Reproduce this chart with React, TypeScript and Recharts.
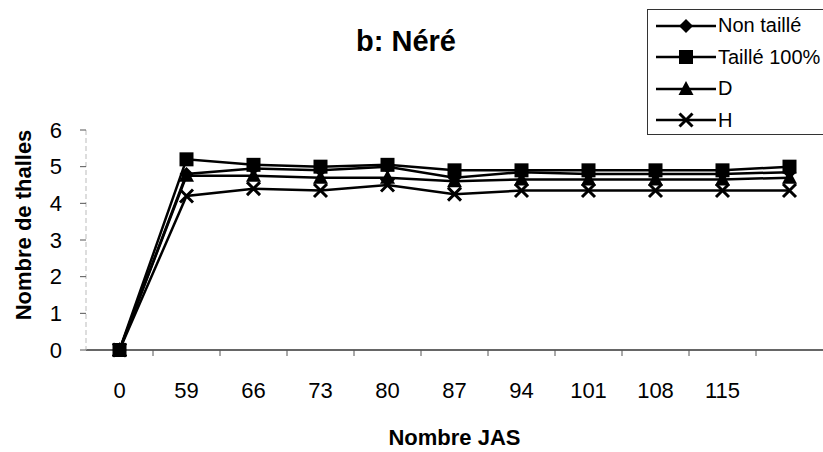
import React from "react";
import { LineChart, Line, XAxis, YAxis, Legend } from "recharts";

// Nombre JAS (jours après semis)
const days = ["0", "59", "66", "73", "80", "87", "94", "101", "108", "115", "122"];
const tickLabels = ["0", "59", "66", "73", "80", "87", "94", "101", "108", "115", ""];

const nonTaille = [0, 4.8, 4.95, 4.9, 5.0, 4.7, 4.85, 4.8, 4.8, 4.8, 4.85];
const taille100 = [0, 5.2, 5.05, 5.0, 5.05, 4.9, 4.9, 4.9, 4.9, 4.9, 5.0];
const serieD = [0, 4.75, 4.75, 4.7, 4.7, 4.6, 4.65, 4.65, 4.65, 4.65, 4.7];
const serieH = [0, 4.2, 4.4, 4.35, 4.5, 4.25, 4.35, 4.35, 4.35, 4.35, 4.35];

const yTicks = [0, 1, 2, 3, 4, 5, 6];

const data = days.map((d, i) => ({
  jas: d,
  nonTaille: nonTaille[i],
  taille100: taille100[i],
  d: serieD[i],
  h: serieH[i],
}));

type Shape = "diamond" | "square" | "triangle" | "cross";

const series: { key: string; name: string; shape: Shape }[] = [
  { key: "nonTaille", name: "Non taillé", shape: "diamond" },
  { key: "taille100", name: "Taillé 100%", shape: "square" },
  { key: "d", name: "D", shape: "triangle" },
  { key: "h", name: "H", shape: "cross" },
];

const FONT = 'Arial, "Liberation Sans", sans-serif';
const BAND_HALF = 33.5;

function marker(shape: Shape, cx: number, cy: number, key?: string | number) {
  if (cx == null || cy == null) return <g key={key} />;
  switch (shape) {
    case "diamond":
      return <path key={key} d={`M${cx},${cy - 7}L${cx + 7},${cy}L${cx},${cy + 7}L${cx - 7},${cy}Z`} fill="#000" />;
    case "square":
      return <rect key={key} x={cx - 7} y={cy - 7} width={14} height={14} fill="#000" />;
    case "triangle":
      return <path key={key} d={`M${cx},${cy - 8}L${cx + 7.5},${cy + 6}L${cx - 7.5},${cy + 6}Z`} fill="#000" />;
    default:
      return (
        <path
          key={key}
          d={`M${cx - 6.5},${cy - 6.5}L${cx + 6.5},${cy + 6.5}M${cx + 6.5},${cy - 6.5}L${cx - 6.5},${cy + 6.5}`}
          stroke="#000"
          strokeWidth={3}
          fill="none"
        />
      );
  }
}

function XTick(props: any) {
  const { x, y, payload, index } = props;
  return (
    <g>
      {index < days.length - 1 && (
        <line x1={x + BAND_HALF} y1={y - 8} x2={x + BAND_HALF} y2={y - 2} stroke="#555" strokeWidth={1} />
      )}
      <text x={x} y={y + 40} textAnchor="middle" fontSize={22} fontFamily={FONT} fill="#000">
        {tickLabels[payload.index ?? index] ?? ""}
      </text>
    </g>
  );
}

function LegendBox() {
  return (
    <div
      style={{
        border: "1px solid #333",
        background: "#fff",
        width: 215,
        height: 126,
        boxSizing: "border-box",
        paddingTop: 0,
        fontFamily: FONT,
        fontSize: 20,
        color: "#000",
      }}
    >
      {series.map((s) => (
        <div key={s.key} style={{ height: 31.5, display: "flex", alignItems: "center", whiteSpace: "nowrap" }}>
          <svg width={64} height={24} style={{ marginLeft: 6, flex: "none" }}>
            <line x1={2} y1={12} x2={62} y2={12} stroke="#000" strokeWidth={2.5} />
            {marker(s.shape, 32, 12)}
          </svg>
          <span>{s.name}</span>
        </div>
      ))}
    </div>
  );
}

function YLabel() {
  return (
    <text
      x={23}
      y={225}
      transform="rotate(-90 23 225)"
      textAnchor="middle"
      dominantBaseline="central"
      fontSize={22}
      fontWeight="bold"
      fontFamily={FONT}
      fill="#000"
    >
      Nombre de thalles
    </text>
  );
}

export default function App() {
  return (
    <div
      style={{
        position: "absolute",
        left: 0,
        top: 0,
        width: 823,
        height: 452,
        overflow: "hidden",
        background: "#fff",
        fontFamily: FONT,
      }}
    >
      <div
        style={{
          position: "absolute",
          left: 0,
          width: 812,
          top: 24,
          textAlign: "center",
          fontSize: 29,
          fontWeight: "bold",
          lineHeight: "34px",
        }}
      >
        b: Néré
      </div>
      <LineChart width={823} height={452} data={data} margin={{ top: 130, right: 0, bottom: 0, left: 0 }}>
        <XAxis
          dataKey="jas"
          height={102}
          interval={0}
          padding={{ left: BAND_HALF, right: BAND_HALF }}
          tickLine={false}
          axisLine={{ stroke: "#333", strokeWidth: 1.5 }}
          tick={<XTick />}
          label={{
            value: "Nombre JAS",
            position: "insideBottom",
            offset: 7,
            style: { fontSize: 22, fontWeight: "bold", fill: "#000", fontFamily: FONT },
          }}
        />
        <YAxis
          width={86}
          domain={[0, 6]}
          ticks={yTicks}
          interval={0}
          tickSize={6}
          tickMargin={18}
          tickLine={{ stroke: "#555" }}
          axisLine={{ stroke: "#bbb", strokeWidth: 1, strokeDasharray: "5 3" }}
          tick={{ fontSize: 22, fill: "#000", fontFamily: FONT }}
          label={<YLabel />}
        />
        <Legend
          layout="vertical"
          align="center"
          verticalAlign="middle"
          wrapperStyle={{ position: "absolute", left: 647, top: 9, width: 215 }}
          content={() => <LegendBox />}
        />
        {series.map((s) => (
          <Line
            key={s.key}
            type="linear"
            dataKey={s.key}
            name={s.name}
            stroke="#000"
            strokeWidth={2.5}
            isAnimationActive={false}
            dot={(p: any) => marker(s.shape, p.cx, p.cy, `${s.key}-${p.index}`)}
            activeDot={false}
          />
        ))}
      </LineChart>
    </div>
  );
}
